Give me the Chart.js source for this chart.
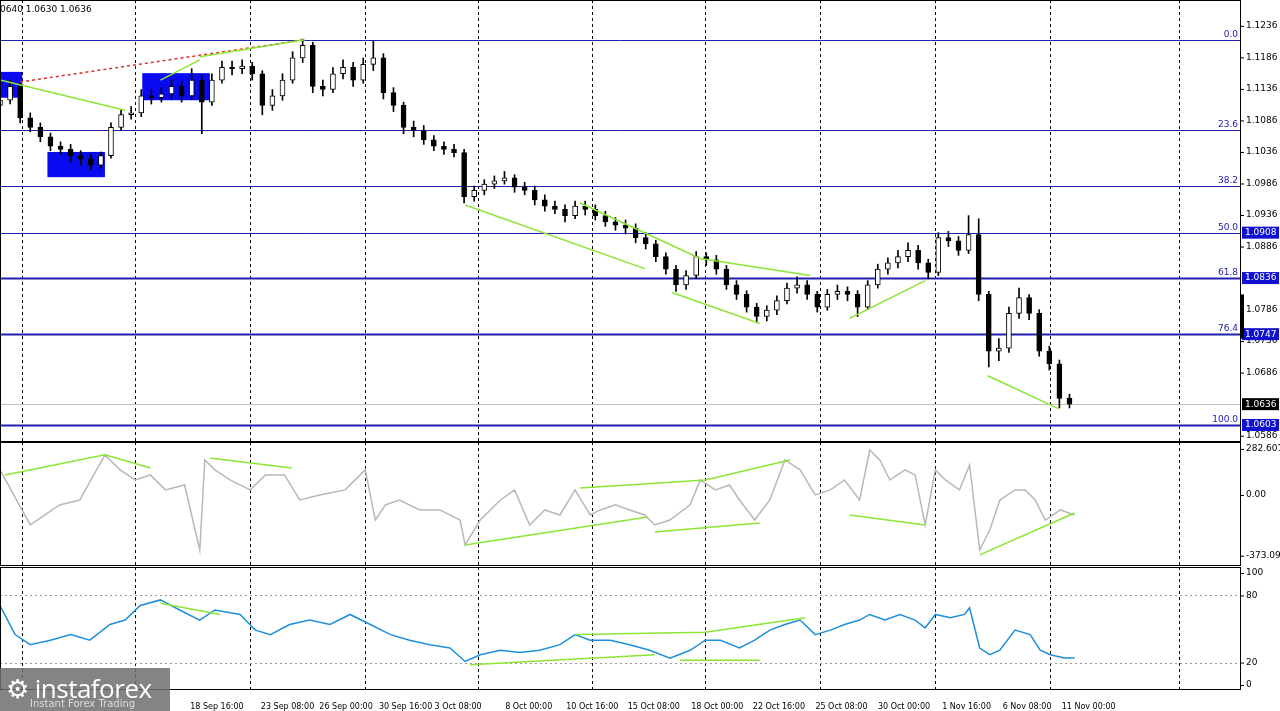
<!DOCTYPE html>
<html><head><meta charset="utf-8">
<script src="https://cdn.jsdelivr.net/npm/chart.js@4.4.1/dist/chart.umd.min.js"></script>
<style>
html,body{margin:0;padding:0;background:#fff;width:1280px;height:711px;overflow:hidden;font-family:"DejaVu Sans",sans-serif}
.p{position:absolute;left:0;width:1280px}
#logo{position:absolute;left:0;top:668px;width:170px;height:43px;background:rgba(110,110,110,0.85);color:#fff}
#logo .a{position:absolute;left:6px;top:2px;font:26px "Open Sans",sans-serif;letter-spacing:-0.5px}
#logo .b{position:absolute;left:30px;top:30px;font:10px "DejaVu Sans",sans-serif;color:#ddd}
#hdr{position:absolute;left:0;top:4px;font:9px "DejaVu Sans";color:#000}
</style></head><body>
<div class="p" style="top:0;height:442px"><canvas id="c1" width="1280" height="442"></canvas></div>
<div class="p" style="top:442px;height:124px"><canvas id="c2" width="1280" height="124"></canvas></div>
<div class="p" style="top:567px;height:144px"><canvas id="c3" width="1280" height="144"></canvas></div>
<div id="hdr">0640 1.0630 1.0636</div>
<div id="logo"><div class="a">⚙ instaforex</div><div class="b">Instant Forex Trading</div></div>
<script>
const firstOpen = 1.1110;
const closes=[1.1118,1.1140,1.1090,1.1075,1.1060,1.1045,1.1040,1.1030,1.1025,1.1015,1.1030,1.1075,1.1095,1.1098,1.1125,1.1122,1.1128,1.1140,1.1125,1.1150,1.1115,1.1150,1.1170,1.1168,1.1172,1.1160,1.1110,1.1125,1.1150,1.1185,1.1205,1.1140,1.1135,1.1160,1.1170,1.1150,1.1175,1.1185,1.1130,1.1110,1.1075,1.1070,1.1055,1.1045,1.1040,1.1035,1.0965,1.0975,1.0985,1.0990,1.0995,1.0980,1.0975,1.0960,1.0950,1.0945,1.0935,1.0950,1.0945,1.0935,1.0925,1.0920,1.0915,1.0900,1.0890,1.0870,1.0850,1.0825,1.0840,1.0870,1.0865,1.0850,1.0825,1.0810,1.0790,1.0775,1.0785,1.0800,1.0820,1.0825,1.0810,1.0790,1.0810,1.0815,1.0810,1.0790,1.0825,1.0850,1.0860,1.0870,1.0880,1.0860,1.0845,1.0900,1.0895,1.0880,1.0905,1.0810,1.0720,1.0725,1.0780,1.0805,1.0780,1.0720,1.0700,1.0645,1.0636];
const highs=[1.1128,1.1150,1.1145,1.1098,1.1082,1.1066,1.1052,1.1048,1.1038,1.1032,1.1036,1.1082,1.1102,1.1108,1.1135,1.1135,1.1138,1.1150,1.1148,1.1168,1.1158,1.1160,1.1180,1.1180,1.1182,1.1178,1.1165,1.1135,1.1160,1.1195,1.1215,1.1210,1.1150,1.1170,1.1182,1.1178,1.1185,1.1212,1.1192,1.1138,1.1115,1.1085,1.1078,1.1062,1.1052,1.1048,1.1040,1.0982,1.0992,1.0998,1.1005,1.1000,1.0988,1.0982,1.0968,1.0958,1.0952,1.0958,1.0958,1.0952,1.0942,1.0932,1.0928,1.0922,1.0908,1.0896,1.0876,1.0856,1.0848,1.0878,1.0876,1.0872,1.0856,1.0832,1.0816,1.0796,1.0792,1.0808,1.0828,1.0838,1.0832,1.0815,1.0818,1.0825,1.0822,1.0816,1.0832,1.0858,1.0868,1.0880,1.0892,1.0888,1.0866,1.0908,1.0910,1.0902,1.0935,1.0930,1.0815,1.0740,1.0790,1.0820,1.0810,1.0786,1.0728,1.0706,1.0652];
const lows=[1.1100,1.1112,1.1082,1.1068,1.1052,1.1038,1.1032,1.1020,1.1015,1.1008,1.1010,1.1026,1.1070,1.1088,1.1092,1.1112,1.1115,1.1120,1.1115,1.1120,1.1065,1.1110,1.1145,1.1158,1.1160,1.1150,1.1095,1.1102,1.1118,1.1145,1.1178,1.1130,1.1125,1.1130,1.1152,1.1140,1.1145,1.1165,1.1120,1.1100,1.1065,1.1060,1.1048,1.1038,1.1032,1.1028,1.0955,1.0958,1.0968,1.0978,1.0985,1.0972,1.0968,1.0952,1.0942,1.0938,1.0925,1.0930,1.0936,1.0928,1.0918,1.0912,1.0906,1.0892,1.0882,1.0862,1.0842,1.0815,1.0818,1.0835,1.0856,1.0842,1.0818,1.0802,1.0782,1.0765,1.0768,1.0778,1.0795,1.0812,1.0802,1.0782,1.0785,1.0802,1.0800,1.0775,1.0786,1.0820,1.0842,1.0852,1.0862,1.0850,1.0835,1.0840,1.0886,1.0872,1.0875,1.0800,1.0695,1.0705,1.0718,1.0772,1.0770,1.0712,1.0690,1.0630,1.0630];
const cciX=[0,3,5.9,7.9,10.4,11.9,13.4,14.9,16.4,18.3,19.8,20.3,21.3,22.8,24.8,26.3,28.2,29.7,31.7,34.2,36.2,37.2,38.2,39.6,41.6,43.6,45.6,46.1,47.6,49.6,51,52.5,54,55.5,57,58.5,59.5,61,62.4,63.9,64.9,66.4,68.4,69.4,70.9,72.3,73.3,74.8,76.3,77.8,79.3,80.8,82.3,83.7,85.2,86.2,87.2,88.2,89.7,90.7,91.7,92.7,93.7,95.1,96.1,97.1,98.1,99.1,100.6,101.6,102.6,103.6,105.1,106.5];
const cciV=[154,-184,-61,-31,246,154,92,123,31,61,-338,215,154,92,31,123,123,-31,0,31,154,-154,-61,-31,-92,-92,-154,-307,-154,-31,31,-184,-92,-123,31,-123,-92,-61,-92,-123,-184,-154,-61,92,31,61,-31,-154,-31,215,154,0,31,92,-31,276,215,92,154,123,-184,154,92,31,184,-338,-215,-31,31,31,-31,-154,-92,-123];
const rsiX=[0,1.5,3,5,7,8.9,10.9,12.4,13.9,15.9,17.8,19.8,21.3,23.8,25.3,26.8,28.7,30.7,32.7,34.7,36.7,38.7,40.6,42.6,44.6,46.1,47.6,49.6,51.5,53.5,55.5,57,58.5,60.5,62.4,64.4,66.4,68.4,69.9,71.4,73.3,74.8,76.3,77.8,79.3,80.8,82.3,83.7,85.2,86.2,87.7,89.2,90.7,91.7,92.7,94.2,95.6,96.1,97.1,98.1,99.1,100.6,102.1,103.1,104.1,105.5,106.5];
const rsiV=[71,45,36,40,45,40,54,58,71,76,67,58,67,63,49,45,54,58,54,63,54,45,40,36,33,21,27,31,29,31,36,45,40,40,36,31,24,31,40,40,33,40,49,54,58,45,49,54,58,63,58,63,58,51,63,60,63,69,33,27,31,49,45,31,27,24,24];
const fibLevels=["0.0","23.6","38.2","50.0","61.8","76.4","100.0"];
const fibPrices=[1.1214,1.1071,1.0982,1.0908,1.0836,1.0747,1.0603];
const priceTicks=[1.1236,1.1186,1.1136,1.1086,1.1036,1.0986,1.0936,1.0886,1.0786,1.0736,1.0686,1.0586];
const boxedPrices=[1.0908,1.0836,1.0747,1.0603];
const lastPrice=1.0636;
const timeLabels=["18 Sep 16:00","23 Sep 08:00","26 Sep 00:00","30 Sep 16:00","3 Oct 08:00","8 Oct 00:00","10 Oct 16:00","15 Oct 08:00","18 Oct 00:00","22 Oct 16:00","25 Oct 08:00","30 Oct 00:00","1 Nov 16:00","6 Nov 08:00","11 Nov 00:00"];
const timeLabelIdx=[21.5,28.5,34.3,40.2,45.4,52.4,58.7,64.8,71.1,77.2,83.4,89.6,95.8,101.8,107.9];
const gridIdx=[2.2,13.4,24.8,36.2,47.4,58.7,69.9,81.3,92.7,104.1,116.9];
const priceGreen=[[[0,1.1150],[12.4,1.1102]],[[15.9,1.1150],[19.8,1.1182]],[[19.8,1.1187],[30.2,1.1214]],[[46.1,1.0952],[63.9,1.0851]],[[57.5,1.0955],[69.4,1.0867],[80.3,1.0840]],[[66.6,1.0813],[75.3,1.0764]],[[84.2,1.0772],[91.7,1.0832]],[[97.9,1.0681],[104.9,1.0629]]];
const priceRed=[[2,1.1147],[30.2,1.1214]];
const blueRects=[[0,2.2,1.1163,1.1122],[4.7,10.4,1.1036,1.0996],[14.1,20.8,1.1161,1.1118]];
const cciGreen=[[[0.5,123],[10.4,246],[14.9,166]],[[20.8,227],[28.9,166]],[[46.1,-307],[64.2,-135]],[[57.5,43],[69.9,92],[78.3,215]],[[64.9,-227],[75.3,-172]],[[84.2,-123],[91.7,-184]],[[97.1,-368],[106.5,-111]]];
const cciTicks=[[282.6012,"282.6012"],[0,"0.00"],[-373.0978,"-373.0978"]];
const rsiGreen=[[[15.9,73],[21.8,63]],[[46.6,18],[64.9,27]],[[57,45],[69.9,47],[79.8,60]],[[67.4,22],[75.3,22]]];
const rsiTicks=[100,80,20,0];

const GREEN='#8be636', FONT='9px "DejaVu Sans"';
const XMIN=0,XMAX=123;
const opens=closes.map((c,i)=>i?closes[i-1]:firstOpen);

function lineSets(list,color,dash){return list.map(pts=>({type:'line',data:pts.map(p=>({x:p[0],y:p[1]})),borderColor:color,borderWidth:1.5,borderDash:dash||[],pointRadius:0,fill:false,order:0}));}
const fitY=s=>{s.width=39;};
const framePlug={id:'frame',afterDraw(ch){const a=ch.chartArea,c=ch.ctx;c.save();c.strokeStyle='#000';c.lineWidth=1;c.strokeRect(Math.round(a.left)+0.5,Math.round(a.top)+0.5,Math.round(a.right-a.left)-1,Math.round(a.bottom-a.top)-1);c.restore();}};
const gridPlug={id:'vgrid',beforeDatasetsDraw(ch){const a=ch.chartArea,c=ch.ctx,x=ch.scales.x;c.save();c.strokeStyle='#000';c.lineWidth=1;c.setLineDash([3,3]);gridIdx.forEach(v=>{const px=Math.round(x.getPixelForValue(v))+0.5;c.beginPath();c.moveTo(px,a.top);c.lineTo(px,a.bottom);c.stroke();});c.restore();}};
function yLabels(ch,items){const c=ch.ctx,y=ch.scales.y,a=ch.chartArea;c.save();c.font=FONT;c.textBaseline='middle';items.forEach(([v,t])=>{const py=y.getPixelForValue(v);c.fillStyle='#000';c.fillRect(a.right,py,3,1);c.fillText(t,a.right+5,py);});c.restore();}
const xScale=(show)=>({type:'linear',min:XMIN,max:XMAX,offset:false,display:show,grid:{display:false,offset:false},border:{display:false}});

const candleBodies=closes.map((c,i)=>({x:i,y:[Math.min(opens[i],c),Math.max(opens[i],c)+0.00001]}));
const wicks=closes.map((c,i)=>({x:i,y:[lows[i],highs[i]]}));
const base={responsive:false,animation:false,maintainAspectRatio:false,devicePixelRatio:1,layout:{padding:0},plugins:{legend:{display:false},tooltip:{enabled:false}}};

new Chart(document.getElementById('c1'),{
 data:{datasets:[
  {type:'bar',data:wicks,backgroundColor:'#000',barThickness:1,grouped:false,order:2},
  {type:'bar',data:candleBodies,backgroundColor:closes.map((c,i)=>c>=opens[i]?'#fff':'#000'),borderColor:'#000',borderWidth:1,borderSkipped:false,barThickness:5,grouped:false,order:1},
  ...lineSets(priceGreen,GREEN),
  ...lineSets([priceRed],'#e03030',[3,3])
 ]},
 options:{...base,
  scales:{x:xScale(false),y:{position:'right',min:1.0576,max:1.1277,afterFit:fitY,ticks:{display:false},grid:{display:false},border:{display:false}}}},
 plugins:[gridPlug,framePlug,{id:'fib',beforeDatasetsDraw(ch){const c=ch.ctx,x=ch.scales.x,y=ch.scales.y,a=ch.chartArea;c.save();
   blueRects.forEach(r=>{c.fillStyle='#0a0af0';const x1=x.getPixelForValue(r[0]),x2=x.getPixelForValue(r[1]),y1=y.getPixelForValue(r[2]),y2=y.getPixelForValue(r[3]);c.fillRect(x1,y1,x2-x1,y2-y1);});
   c.strokeStyle='#c0c0c0';c.lineWidth=1;let py=Math.round(y.getPixelForValue(lastPrice))+0.5;c.beginPath();c.moveTo(a.left,py);c.lineTo(a.right,py);c.stroke();
   fibPrices.forEach((p,i)=>{const py=Math.round(y.getPixelForValue(p))+0.5;c.strokeStyle='#2020b0';c.lineWidth=i>=4?2:1;c.beginPath();c.moveTo(a.left,py);c.lineTo(a.right,py);c.stroke();c.fillStyle='#2020b0';c.font=FONT;c.textAlign='right';c.textBaseline='bottom';c.fillText(fibLevels[i],a.right-3,py-1);});
   c.restore();},
  afterDraw(ch){const c=ch.ctx,y=ch.scales.y,a=ch.chartArea;yLabels(ch,priceTicks.map(v=>[v,v.toFixed(4)]));c.save();c.font=FONT;c.textBaseline='middle';
   boxedPrices.forEach(p=>{const py=y.getPixelForValue(p);c.fillStyle='#1010d0';c.fillRect(a.right+1,py-6,37,12);c.fillStyle='#fff';c.fillText(p.toFixed(4),a.right+4,py);});
   const py=y.getPixelForValue(lastPrice);c.fillStyle='#000';c.fillRect(a.right+1,py-6,37,12);c.fillStyle='#fff';c.fillText(lastPrice.toFixed(4),a.right+4,py);
   c.fillStyle='#000';c.fillRect(a.right,y.getPixelForValue(1.0810),3,y.getPixelForValue(1.0740)-y.getPixelForValue(1.0810));c.restore();}}]
});

new Chart(document.getElementById('c2'),{
 data:{datasets:[{type:'line',data:cciX.map((x,i)=>({x,y:cciV[i]})),borderColor:'#b8b8b8',borderWidth:1.5,pointRadius:0,order:1},...lineSets(cciGreen,GREEN)]},
 options:{...base,
  scales:{x:xScale(false),y:{position:'right',min:-436,max:325,afterFit:fitY,ticks:{display:false},grid:{display:false},border:{display:false}}}},
 plugins:[gridPlug,framePlug,{id:'cl',afterDraw(ch){yLabels(ch,cciTicks);}}]
});

new Chart(document.getElementById('c3'),{
 data:{datasets:[{type:'line',data:rsiX.map((x,i)=>({x,y:rsiV[i]})),borderColor:'#1e8fd8',borderWidth:1.5,pointRadius:0,order:1},...lineSets(rsiGreen,GREEN)]},
 options:{...base,
  scales:{x:{type:'linear',min:XMIN,max:XMAX,offset:false,afterFit:s=>{s.height=21;},afterBuildTicks:s=>{s.ticks=timeLabelIdx.map(v=>({value:v}));},
     ticks:{autoSkip:false,maxRotation:0,font:{family:'DejaVu Sans',size:8},color:'#000',padding:4,callback:(v)=>{const k=timeLabelIdx.indexOf(v);return k>=0?timeLabels[k]:'';}},grid:{display:false},border:{display:false}},
   y:{position:'right',min:-4.5,max:105.4,afterFit:fitY,ticks:{display:false},grid:{display:false},border:{display:false}}}},
 plugins:[gridPlug,framePlug,{id:'rl',beforeDatasetsDraw(ch){const c=ch.ctx,y=ch.scales.y,a=ch.chartArea;c.save();c.strokeStyle='#999';c.setLineDash([2,3]);[80,20].forEach(v=>{const py=Math.round(y.getPixelForValue(v))+0.5;c.beginPath();c.moveTo(a.left,py);c.lineTo(a.right,py);c.stroke();});c.restore();},
  afterDraw(ch){yLabels(ch,rsiTicks.map(v=>[v,String(v)]));}}]
});
</script></body></html>
